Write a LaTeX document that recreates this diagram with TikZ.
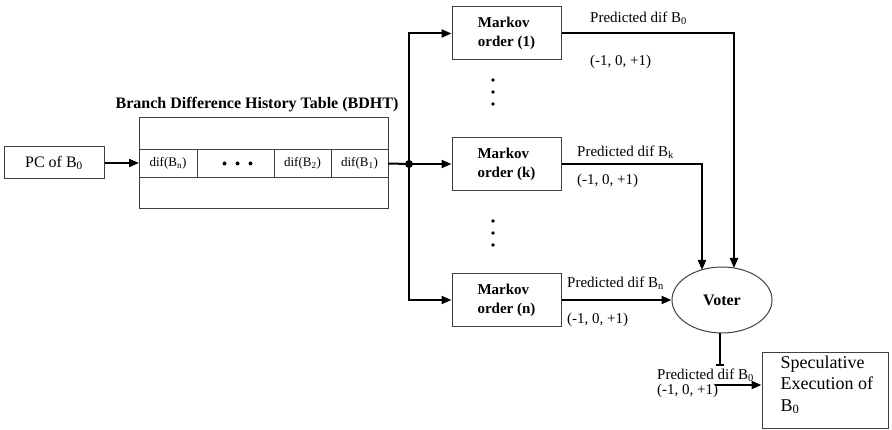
\documentclass[tikz,border=0pt]{standalone}
\usepackage{fontspec}
\setmainfont{Liberation Serif}
\usetikzlibrary{arrows.meta,positioning,shapes.geometric,calc}

\begin{document}
\begin{tikzpicture}[x=1pt,y=-1pt,
	every node/.style={font=\fontsize{15}{17}\selectfont},
	box/.style={draw=black!75, line width=1pt, inner sep=0pt},
	cell/.style={box, outer sep=0pt, minimum height=28pt, font=\fontsize{13}{15}\selectfont},
	markov/.style={box, minimum width=109pt, minimum height=53pt, align=left,
		font=\fontsize{15}{19}\selectfont\bfseries},
	conn/.style={line width=2pt, -{Triangle[length=10pt,width=8pt]}},
	wire/.style={line width=2pt},
	lbl/.style={anchor=west, inner sep=0pt}]
	
	\useasboundingbox (0,0) rectangle (892,430);
	
	% input and history table
	\node[box, minimum width=100pt, minimum height=32pt, font=\fontsize{16}{18}\selectfont] (pc) at (54,163) {PC of B\textsubscript{0}};
	\node[box, outer sep=0pt, minimum width=249pt, minimum height=91pt] (bdht) at (263.5,163.5) {};
	\node[cell, minimum width=58pt, anchor=west] (cn) at (bdht.west) {dif(B\textsubscript{n})};
	\node[cell, minimum width=77pt, right=0pt of cn] (cdots) {};
	\node[cell, minimum width=57pt, right=0pt of cdots] (c2) {dif(B\textsubscript{2})};
	\node[cell, minimum width=57pt, right=0pt of c2] (c1) {dif(B\textsubscript{1})};
	\foreach \dx in {-11,2,15}
		\fill ($(cdots.center)+(\dx,0)$) circle (2pt);
	\node[font=\fontsize{16}{18}\selectfont\bfseries] (title) at (257,105) {Branch Difference History Table (BDHT)};
	\draw[conn] (pc.east) -- (pc.east -| bdht.west);
	
	% fan out to the predictors
	\coordinate (jn) at (409,164);
	\draw[wire] (c1.east) -- (jn);
	\fill (jn) circle (4pt);
	\node[markov] (m1) at (506.5,33.5) {Markov\\order (1)};
	\node[markov] (mk) at (506.5,164) {Markov\\order (k)};
	\node[markov] (mn) at (506.5,300) {Markov\\order (n)};
	\draw[conn] (jn) |- (m1.west);
	\draw[conn] (jn) -- (mk.west);
	\draw[conn] (jn) |- (mn.west);
	\foreach \y in {80,92,104}
		\fill (493,\y) circle (1.8pt);
	\foreach \y in {221,233,245}
		\fill (493,\y) circle (1.8pt);
	
	% voter
	\node[ellipse, draw=black!75, line width=1pt, minimum width=100pt, minimum height=66pt, inner sep=0pt,
		font=\fontsize{16}{18}\selectfont\bfseries] (voter) at (722,300) {Voter};
	\coordinate (v1) at (734,268);
	\coordinate (vk) at (702,270);
	\draw[conn] (m1.east) -| (v1);
	\draw[conn] (mk.east) -| (vk);
	\draw[conn] (mn.east) -- (voter.west);
	\node[lbl] (p1) at (590,18) {Predicted dif B\textsubscript{0}};
	\node[lbl] (r1) at (590,62) {(-1, 0, +1)};
	\node[lbl] (pk) at (577,152) {Predicted dif B\textsubscript{k}};
	\node[lbl] (rk) at (577,181) {(-1, 0, +1)};
	\node[lbl] (pn) at (567,283) {Predicted dif B\textsubscript{n}};
	\node[lbl] (rn) at (567,320) {(-1, 0, +1)};
	
	% result
	\coordinate (vo) at (720,366);
	\draw[wire, -{Bar[width=8pt]}] (voter.south -| vo) -- (vo);
	\node[box, minimum width=126pt, minimum height=75pt] (spec) at (825,390.5) {};
	\node[align=left, anchor=north west, inner sep=0pt, font=\fontsize{18}{21.5}\selectfont]
		(spectxt) at ($(spec.north west)+(19,3)$) {Speculative\\Execution of\\B\textsubscript{0}};
	\node[lbl] (po) at (657,375) {Predicted dif B\textsubscript{0}};
	\node[lbl] (ro) at (657,391) {(-1, 0, +1)};
	\coordinate (so) at (715,385);
	\draw[conn] (so) -- (so -| spec.west);
\end{tikzpicture}
\end{document}
